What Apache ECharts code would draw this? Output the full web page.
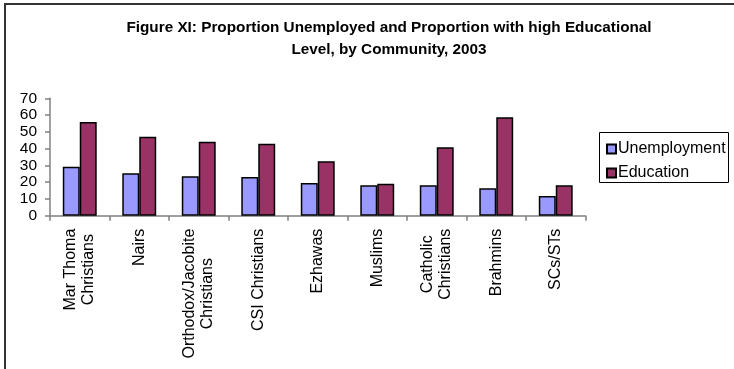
<!DOCTYPE html>
<html><head><meta charset="utf-8">
<script src="https://cdn.jsdelivr.net/npm/echarts@6/dist/echarts.min.js"></script>
<style>html,body{margin:0;padding:0;background:#fff}#c{width:734px;height:369px}</style>
</head><body><div id="c"></div>
<script>
var categories = ["Mar Thoma\nChristians", "Nairs", "Orthodox/Jacobite\nChristians", "CSI Christians", "Ezhawas", "Muslims", "Catholic\nChristians", "Brahmins", "SCs/STs"];
var unemployment = [29.2, 25.3, 23.5, 23.1, 19.5, 18.1, 18.1, 16.3, 11.7];
var education = [55.9, 47.1, 44.1, 42.9, 32.4, 19.1, 40.8, 58.7, 18.1];
var yTicks = [0, 10, 20, 30, 40, 50, 60, 70];
var titleText = "Figure XI: Proportion Unemployed and Proportion with high Educational\nLevel, by Community, 2003";

var chart = echarts.init(document.getElementById('c'), null, {renderer: 'canvas'});
var font = 'Liberation Sans, Arial, sans-serif';
chart.setOption({
  animation: false,
  backgroundColor: '#fff',
  title: {
    text: titleText, left: 384, top: 12, textAlign: 'center',
    textStyle: {fontFamily: font, fontSize: 15.3, fontWeight: 'bold', color: '#000', lineHeight: 22}
  },
  graphic: [
    {type: 'line', shape: {x1: 4, y1: 4, x2: 734, y2: 4}, style: {stroke: '#333', lineWidth: 2}},
    {type: 'line', shape: {x1: 5, y1: 4, x2: 5, y2: 369}, style: {stroke: '#333', lineWidth: 2}},
    {type: 'rect', shape: {x: 599.5, y: 132.5, width: 129, height: 50}, style: {fill: 'none', stroke: '#000', lineWidth: 1}}
  ],
  legend: {
    orient: 'vertical', left: 601, top: 136, itemGap: 8, itemWidth: 9, itemHeight: 9,
    textStyle: {fontFamily: font, fontSize: 16, color: '#000', padding: [0, 0, 0, -3]},
    icon: 'rect'
  },
  grid: {left: 50, right: 148.5, top: 98.3, bottom: 153.3},
  xAxis: {
    type: 'category', data: categories,
    axisLine: {lineStyle: {color: '#808080', width: 1.5}},
    axisTick: {show: true, length: 5, lineStyle: {color: '#808080', width: 1.5}},
    axisLabel: {
      rotate: 90, interval: 0, margin: 13, fontFamily: font, fontSize: 16, color: '#000',
      lineHeight: 18,
      formatter: function (v) { return v.split('\n').map(function (s) { return '{c|' + s + '}'; }).join('\n'); },
      rich: {c: {align: 'center', fontFamily: font, fontSize: 16, lineHeight: 18, color: '#000'}}
    }
  },
  yAxis: {
    type: 'value', min: 0, max: 70, interval: 10,
    splitLine: {show: false},
    axisLine: {show: true, lineStyle: {color: '#808080', width: 1.5}},
    axisTick: {show: true, length: 5, lineStyle: {color: '#808080', width: 1.5}},
    axisLabel: {margin: 13, fontFamily: font, fontSize: 15.5, color: '#000',
      formatter: function (v) { return yTicks.indexOf(v) >= 0 ? String(v) : ''; }}
  },
  series: [
    {name: 'Unemployment', type: 'bar', data: unemployment, barGap: '0%', barCategoryGap: '43%',
     itemStyle: {color: '#9999FF', borderColor: '#000', borderWidth: 1.5}},
    {name: 'Education', type: 'bar', data: education, barGap: '0%', barCategoryGap: '43%',
     itemStyle: {color: '#993366', borderColor: '#000', borderWidth: 1.5}}
  ]
});
</script></body></html>
